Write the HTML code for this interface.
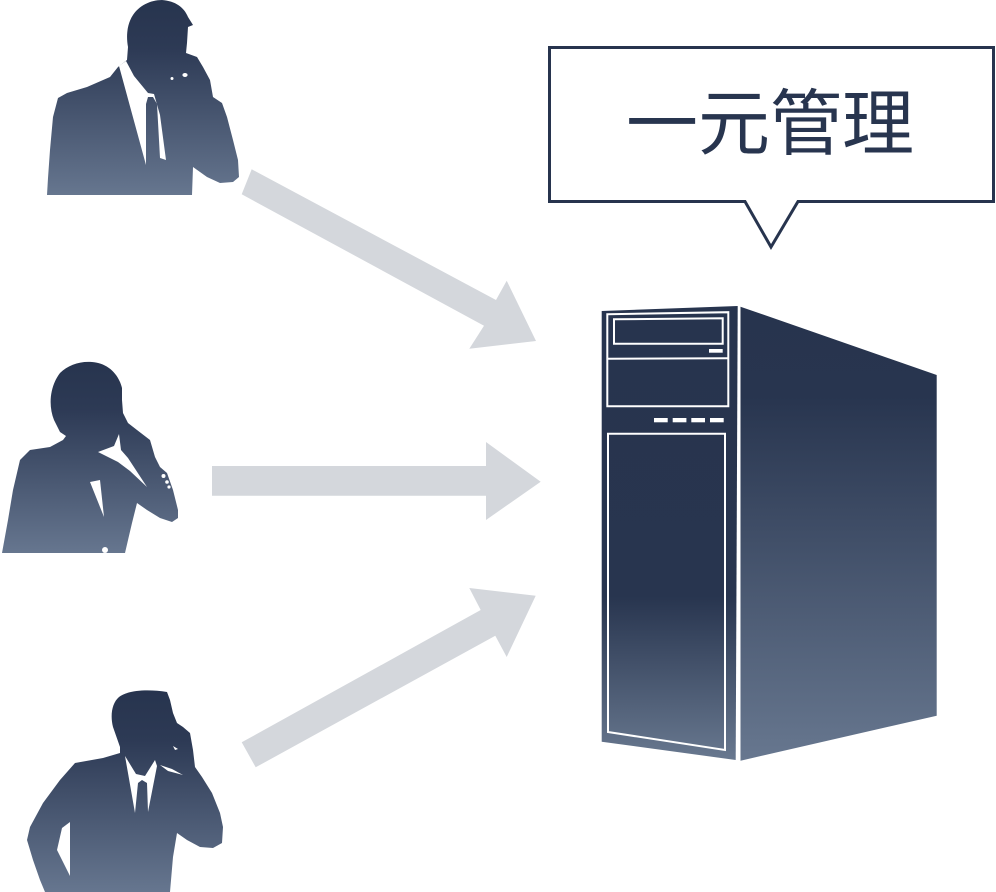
<!DOCTYPE html>
<html>
<head>
<meta charset="utf-8">
<style>
html,body{margin:0;padding:0;background:#fff;}
svg{display:block;}
</style>
</head>
<body>
<svg width="996" height="892" viewBox="0 0 996 892" xmlns="http://www.w3.org/2000/svg">
<defs>
  <linearGradient id="pg" x1="0" y1="0" x2="0" y2="1">
    <stop offset="0" stop-color="#27344e"/>
    <stop offset="0.25" stop-color="#2d3a55"/>
    <stop offset="1" stop-color="#66768f"/>
  </linearGradient>
  <linearGradient id="front" gradientUnits="userSpaceOnUse" x1="0" y1="306" x2="0" y2="760">
    <stop offset="0" stop-color="#27344e"/>
    <stop offset="0.64" stop-color="#28354f"/>
    <stop offset="1" stop-color="#68788f"/>
  </linearGradient>
  <linearGradient id="side" gradientUnits="userSpaceOnUse" x1="0" y1="306" x2="0" y2="760">
    <stop offset="0" stop-color="#27344e"/>
    <stop offset="0.2" stop-color="#28354f"/>
    <stop offset="1" stop-color="#67778f"/>
  </linearGradient>
</defs>

<!-- arrows -->
<g fill="#d4d7dc">
  <polygon points="251.7,169.3 496,300 506.7,280.7 536,341 469.3,348.7 484,325.7 241.7,194.3"/>
  <polygon points="212,466 486,466 486,442 540.7,481.7 486,520 486,495.7 212,495.7"/>
  <polygon points="241.7,742.3 480.7,610 469.3,588 535.7,595.7 506.7,657 495.3,635.7 255.7,767.3"/>
</g>

<!-- callout -->
<path d="M549.5,47.5 H993.5 V201.5 H798 L771,247 L745,201.5 H549.5 Z" fill="#fff" stroke="#27344e" stroke-width="3" stroke-linejoin="miter"/>
<text x="770" y="149" text-anchor="middle" font-family="'Liberation Sans','Noto Sans CJK JP',sans-serif" font-size="72" fill="#28354f">一元管理</text>

<!-- server -->
<polygon points="601.7,311 737.7,306 735.7,760 601.7,741.7" fill="url(#front)"/>
<polygon points="740.5,306.7 936.7,375 936.7,715.7 740.5,760.7" fill="url(#side)"/>
<g fill="none" stroke="#ffffff" stroke-width="2">
  <polygon points="607.3,314.2 728.3,312.2 728.3,406.3 607.3,406.3"/>
  <line x1="607.3" y1="358.7" x2="728.3" y2="358.2"/>
  <polygon points="614,319.3 722.7,318.3 722.7,343.7 614,343.7"/>
  <polygon points="608,433.7 725,433.7 725,750 608,732"/>
</g>
<g fill="#ffffff">
  <rect x="709" y="349" width="13.7" height="3.7"/>
  <rect x="654" y="418" width="13.7" height="4.3"/>
  <rect x="672.7" y="418" width="13.7" height="4.3"/>
  <rect x="691.3" y="418" width="13.7" height="4.3"/>
  <rect x="710" y="418" width="13.7" height="4.3"/>
</g>

<!-- person 1 (top) -->
<path fill="url(#pg)" d="M128,47 C126,36 127,24 133,15 C139,6 150,0 162,0 C175,1 184,7 188,17 L193,25 L188,27 L187,43 L186,53 L197,57 L203,67 L210,80 L213,97 L222,103 L227,117 L233,140 L238,160 L239,177 L233,182 L220,183 L207,177 L193,167 L192,195 L47,195 L48,178 L50,150 L53,117 L58,98 L67,93 L87,87 L110,77 L118,67 L127,60 Z"/>
<path fill="#ffffff" d="M119,66 L126,61 L134,76 L148,93 L154,94 L160,115 L166,160 L160,158 L157,104 L153,97 L148,97 L146,104 L146,165 Z"/>
<ellipse cx="185" cy="75" rx="2.6" ry="2" fill="#fff"/>
<circle cx="172" cy="78.5" r="1.5" fill="#fff"/>

<!-- person 2 (woman) -->
<path fill="url(#pg)" d="M54,420 C48,405 50,386 60,373 C68,365 80,361 92,362 C106,363 118,372 122,388 L122,400 L123,413 L128,423 L137,430 L150,440 L155,457 L160,467 L167,473 L173,490 L178,510 L178,518 L172,522 L160,518 L147,510 L137,503 L132,523 L125,553 L2,553 L8,520 L13,490 L20,460 L30,450 L50,447 L63,440 L66,436 L60,432 Z"/>
<path fill="#ffffff" d="M98,452 L114,446 L119,434 L121,450 L128,458 L147,487 L130,471 L118,462 Z"/>
<path fill="#ffffff" d="M90,482 L100,480 L104,517 Z"/>
<circle cx="105" cy="550" r="3" fill="#fff"/>
<circle cx="163.5" cy="476" r="2" fill="#fff"/>
<circle cx="167" cy="482" r="1.8" fill="#fff"/>
<circle cx="169" cy="487" r="1.6" fill="#fff"/>

<!-- person 3 (bottom) -->
<path fill="url(#pg)" d="M113,727 C110,715 112,703 119,697 C128,690 148,689 167,692 L170,700 L173,713 L177,723 L183,727 L190,733 L193,750 L195,767 L202,777 L212,793 L220,813 L223,827 L222,843 L213,848 L200,847 L187,840 L177,833 L173,857 L170,892 L45,892 L40,880 L33,860 L27,840 L30,827 L43,803 L60,780 L75,763 L103,758 L120,753 L120,747 Z"/>
<path fill="#ffffff" d="M57,850 L62,828 L70,822 L70,876 Z"/>
<path fill="#ffffff" d="M125,756 L135,813 L138,783 L142,780 L147,783 L148,812 L157,766 L155,760 L145,776 L136,774 Z"/>
<path fill="#ffffff" d="M160,765 L172,769 L183,775 L168,771 Z"/>
<path fill="#ffffff" d="M173,746 L178,749 L175,750 Z"/>
</svg>
</body>
</html>
